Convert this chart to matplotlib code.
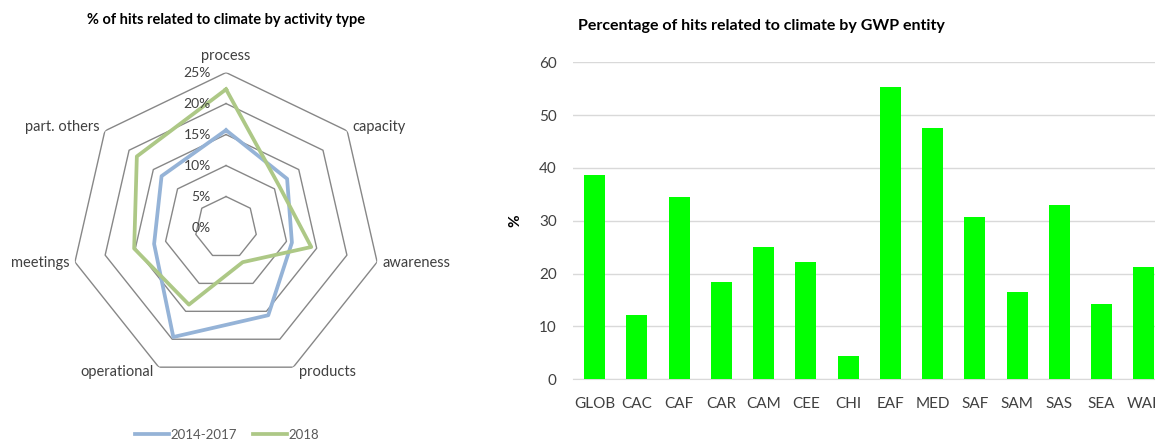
import numpy as np
import matplotlib
matplotlib.use('Agg')
import matplotlib.pyplot as plt

plt.rcParams['font.family'] = ['Lato', 'DejaVu Sans']

# radar data (% of hits related to climate by activity type)
activities = ['process', 'capacity', 'awareness', 'products', 'operational', 'meetings', 'part. others']
hits_2014_2017 = [15.7, 12.6, 10.9, 15.7, 19.6, 11.9, 13.3]
hits_2018 = [22.3, 10.9, 14.1, 6.2, 13.8, 15.2, 18.4]
ring_levels = [5, 10, 15, 20, 25]
ring_labels = ['0%', '5%', '10%', '15%', '20%', '25%']

# bar data (% of hits by GWP entity)
entities = ['GLOB', 'CAC', 'CAF', 'CAR', 'CAM', 'CEE', 'CHI', 'EAF', 'MED', 'SAF', 'SAM', 'SAS', 'SEA', 'WAF']
entity_pct = [38.7, 12.1, 34.5, 18.4, 25.0, 22.2, 4.5, 55.3, 47.6, 30.7, 16.5, 32.9, 14.3, 21.2]

blue = '#95B3D7'
green = '#ADC886'
txt = '#404040'

fig = plt.figure(figsize=(11.55, 4.41), dpi=100)

# ---- radar chart ----
ax = fig.add_axes([0.0615, 0.1326, 0.2684, 0.7029], projection='polar')
ax.set_theta_zero_location('N')
ax.set_theta_direction(-1)
n = len(activities)
ang = np.linspace(0, 2 * np.pi, n, endpoint=False)
angc = np.append(ang, ang[0])

for r in ring_levels:
    ax.plot(angc, [r] * (n + 1), color='#878787', lw=1.0, zorder=1)

ax.plot(angc, hits_2014_2017 + hits_2014_2017[:1], color=blue, lw=2.7, label='2014-2017', zorder=3)
ax.plot(angc, hits_2018 + hits_2018[:1], color=green, lw=2.7, label='2018', zorder=4)

ax.set_ylim(0, 25)
ax.grid(False)
ax.spines['polar'].set_visible(False)
ax.set_xticks([])
ax.set_yticks([])
ax.patch.set_alpha(0)

for i, lab in enumerate(ring_labels):
    ax.annotate(lab, xy=(0, i * 5), xytext=(-11, 0), textcoords='offset points',
                ha='right', va='center', fontsize=10, color=txt, zorder=5)

for a, lab in zip(ang, activities):
    s, c = np.sin(a), np.cos(a)
    if s > 0.1:
        ha, dx = 'left', 4
    elif s < -0.1:
        ha, dx = 'right', -4
    else:
        ha, dx = 'center', 0
    dy = 4 * c + (8 if c > 0.95 else 0)
    ax.annotate(lab, xy=(a, 25), xytext=(dx, dy), textcoords='offset points',
                ha=ha, va='center', fontsize=10.5, color=txt, annotation_clip=False)

fig.text(226 / 1155, 1 - 20 / 441, '% of hits related to climate by activity type',
         ha='center', va='center', fontsize=10.5, fontweight='bold', color='black')

fig.legend(loc='center', bbox_to_anchor=(227 / 1155, 1 - 435 / 441), ncol=2, frameon=False,
           fontsize=9.5, handlelength=2.6, handletextpad=0.1, columnspacing=1.2,
           labelcolor='#595959')

# ---- bar chart ----
bx = fig.add_axes([0.4965, 0.1399, 0.5122, 0.7188])
x = np.arange(len(entities))
bx.bar(x, entity_pct, width=0.5, color='#00FF00', zorder=3)
bx.set_xlim(-0.5, len(entities) - 0.5)
bx.set_ylim(0, 60)
bx.set_yticks(range(0, 61, 10))
bx.set_xticks(x)
bx.set_xticklabels(entities)
bx.grid(axis='y', color='#D9D9D9', lw=1.0, zorder=0)
for sp in ['top', 'right', 'left']:
    bx.spines[sp].set_visible(False)
bx.spines['bottom'].set_color('#D9D9D9')
bx.tick_params(axis='both', length=0, labelsize=11, labelcolor=txt)
bx.tick_params(axis='y', pad=12)
bx.tick_params(axis='x', pad=13)
bx.set_ylabel('%', fontsize=11, fontweight='bold', color='black', labelpad=12)

fig.text(761 / 1155, 1 - 26 / 441, 'Percentage of hits related to climate by GWP entity',
         ha='center', va='center', fontsize=11.5, fontweight='bold', color='black')

fig.savefig('out.png', dpi=100)
